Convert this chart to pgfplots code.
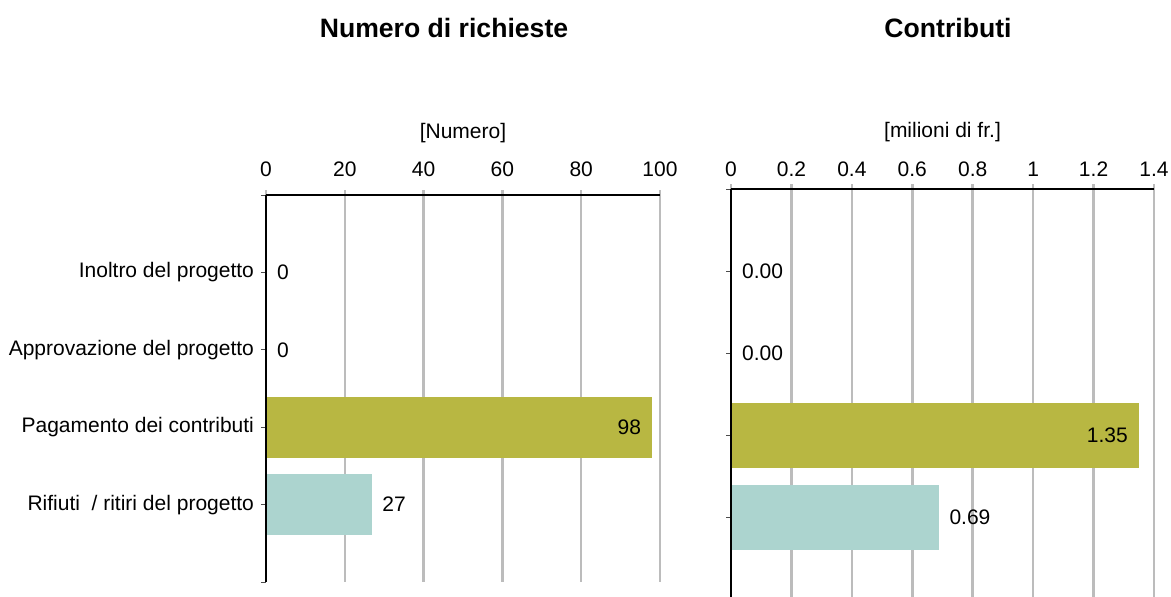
\documentclass[border=0pt]{standalone}
\usepackage{pgfplots}
\pgfplotsset{compat=1.18}
\usepackage{fontspec}
\setmainfont{Liberation Sans}
\definecolor{olivebar}{RGB}{184,183,66}
\definecolor{tealbar}{RGB}{172,212,207}
\definecolor{gridgray}{RGB}{188,188,188}
\tikzset{valfont/.style={font=\fontsize{10.5}{12}\selectfont, text=black}}
\pgfplotsset{
  panel/.style={
    scale only axis,
    anchor=north west,
    y dir=reverse,
    ymin=0, ymax=5,
    axis x line=top,
    axis y line=left,
    axis line style={-, black, line width=1.1pt},
    xmajorgrids,
    grid style={gridgray, line width=1.25pt},
    tick align=outside,
    major tick length=2.5pt,
    x tick style={gridgray, line width=1.25pt},
    y tick style={black!70, line width=0.5pt},
    ytick={0,1,2,3,4,5},
    /pgf/number format/assume math mode=true,
    tick label style={font=\fontsize{10.5}{12}\selectfont},
    label style={font=\fontsize{10.5}{12}\selectfont},
    clip=false,
  },
}
\begin{document}
\begin{tikzpicture}
\useasboundingbox (0,0) rectangle (585.5pt,298pt);
\node[font=\fontsize{13.3}{16}\selectfont\bfseries] at (222pt,284pt) {Numero di richieste};
\node[font=\fontsize{13.3}{16}\selectfont\bfseries] at (474pt,284pt) {Contributi};
% Left panel
\begin{axis}[panel,
  at={(133pt,200.5pt)},
  width=197pt, height=193.5pt,
  xmin=0, xmax=100,
  xtick={0,20,40,60,80,100},
  xticklabel style={yshift=3pt},
  yticklabels={{},Inoltro del progetto,Approvazione del progetto,Pagamento dei contributi,Rifiuti\ \ / ritiri del progetto,{}},
  xlabel={[Numero]},
  xlabel style={at={(axis description cs:0.5,1)}, anchor=center, yshift=31pt},
]
\addplot[xbar, bar width=30.5pt, bar shift=0pt, draw=none, fill=olivebar,
  nodes near coords, every node near coord/.style={valfont, anchor=west, xshift=2pt}]
  coordinates {(0,1) (0,2)};
\addplot[xbar, bar width=30.5pt, bar shift=0pt, draw=none, fill=olivebar,
  nodes near coords, every node near coord/.style={valfont, anchor=east, xshift=-2pt}]
  coordinates {(98,3)};
\addplot[xbar, bar width=30.5pt, bar shift=0pt, draw=none, fill=tealbar,
  nodes near coords, every node near coord/.style={valfont, anchor=west, xshift=1.5pt}]
  coordinates {(27,4)};
\draw[black, line width=1.3pt] (axis cs:0,0) -- (axis cs:0,5);
\end{axis}
% Right panel
\begin{axis}[panel,
  at={(365.5pt,203.5pt)},
  width=211.5pt, height=205pt,
  xmin=0, xmax=1.4,
  xtick={0,0.2,0.4,0.6,0.8,1,1.2,1.4},
  xticklabel style={yshift=0pt},
  yticklabels={},
  xlabel={[milioni di fr.]},
  xlabel style={at={(axis description cs:0.5,1)}, anchor=center, yshift=28.5pt},
]
\addplot[xbar, bar width=32.5pt, bar shift=0pt, draw=none, fill=olivebar,
  nodes near coords={\pgfmathprintnumber[fixed,fixed zerofill,precision=2]{\pgfplotspointmeta}},
  every node near coord/.style={valfont, anchor=west, xshift=2pt}]
  coordinates {(0,1) (0,2)};
\addplot[xbar, bar width=32.5pt, bar shift=0pt, draw=none, fill=olivebar,
  nodes near coords={\pgfmathprintnumber[fixed,fixed zerofill,precision=2]{\pgfplotspointmeta}},
  every node near coord/.style={valfont, anchor=east, xshift=-2pt}]
  coordinates {(1.35,3)};
\addplot[xbar, bar width=32.5pt, bar shift=0pt, draw=none, fill=tealbar,
  nodes near coords={\pgfmathprintnumber[fixed,fixed zerofill,precision=2]{\pgfplotspointmeta}},
  every node near coord/.style={valfont, anchor=west, xshift=1.5pt}]
  coordinates {(0.69,4)};
\draw[black, line width=1.3pt] (axis cs:0,0) -- (axis cs:0,5);
\end{axis}
\end{tikzpicture}
\end{document}
